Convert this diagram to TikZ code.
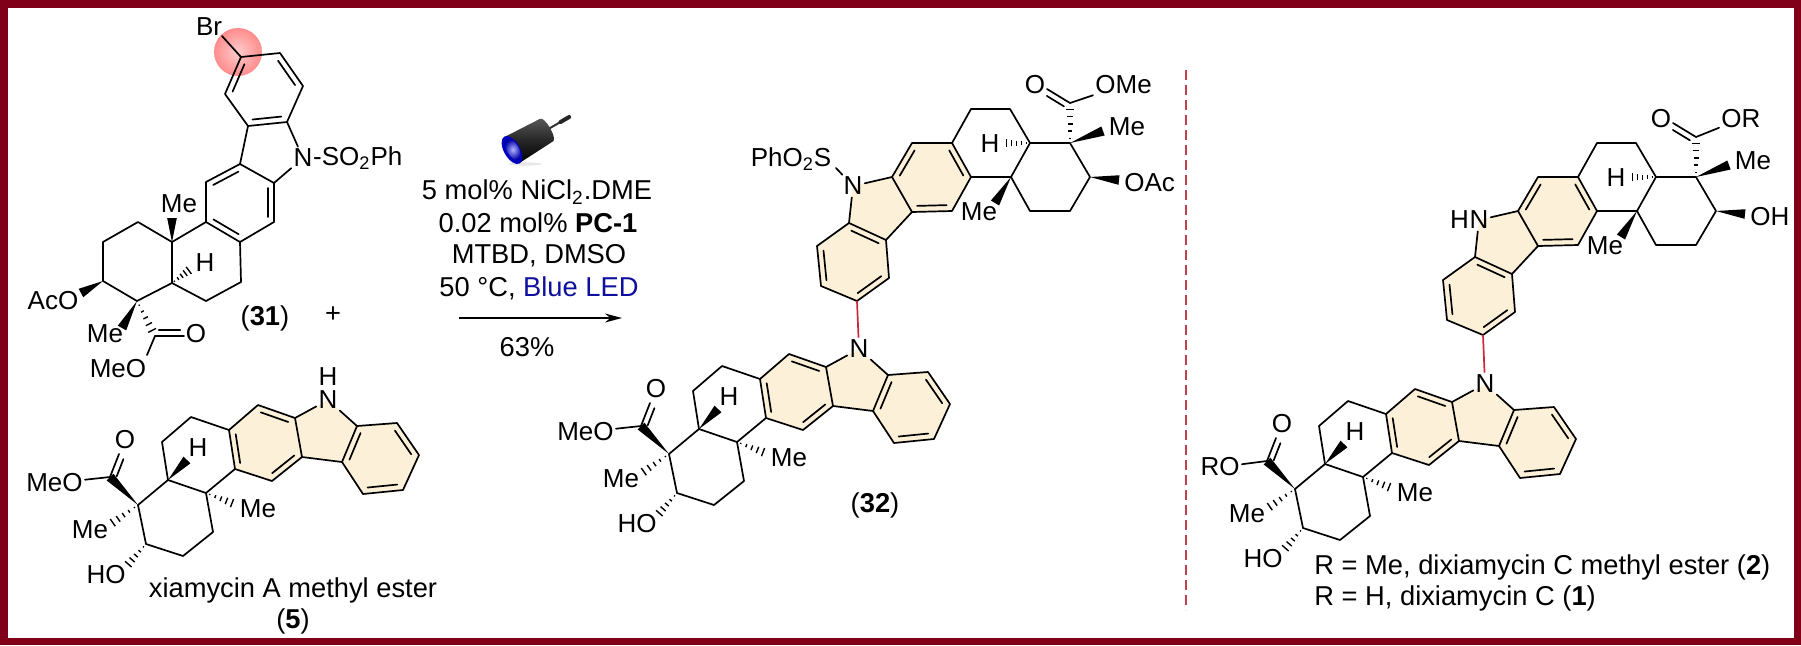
\documentclass[tikz,border=0pt]{standalone}
\usepackage{fontspec}
\setmainfont{Liberation Sans}
\usetikzlibrary{calc,positioning,arrows.meta}
\definecolor{frame}{HTML}{80001A}
\definecolor{ringfill}{HTML}{FCF0D8}
\definecolor{dashred}{HTML}{C2414F}
\definecolor{linkred}{HTML}{C8283C}
\definecolor{ledblue}{HTML}{0F0F9E}
\tikzset{
    bond/.style = {line width=0.85pt, line join=round, line cap=round},
    chem/.style = {inner sep=1pt, font=\fontsize{13}{15}\selectfont},
    caption/.style = {inner sep=0pt, font=\fontsize{13.65}{16}\selectfont},
    hashline/.style = {line width=0.7pt},
}
% x/y name list to coordinates
\newcommand{\pts}[1]{\foreach \n/\x/\y in {#1}{\coordinate (\n) at (\x,\y);}}
\newcommand{\dbl}[2]{\draw[bond] ($(#1)!0.13!(#2)!3pt!90:(#2)$) -- ($(#2)!0.13!(#1)!3pt!-90:(#1)$);}
\newcommand{\wdg}[2]{\fill (#1) -- ($(#2)!2.4pt!90:(#1)$) -- ($(#2)!2.4pt!-90:(#1)$) -- cycle;}
\newcommand{\hsh}[2]{\foreach \hp [evaluate=\hp as \hw using \hp*2.6] in {0.12,0.3,0.48,0.66,0.84,1}{
    \draw[hashline] ($(#1)!\hp!(#2)!\hw pt!90:(#2)$) -- ($(#1)!\hp!(#2)!\hw pt!-90:(#2)$);}}
% decalin + carbazole, the lower half
\newcommand{\lowerunit}[3]{
    \begin{scope}[shift={(#1,#2)}]
    \pts{r1/357/426,r2/397/423,r3/419/455,r4/403/490,r5/363/494,r6/342/462,
         a1/295/418,a2/258/405,a3/229/430,a4/235/469,a5/272/481,a6/302/457,
         e1/191/417,e2/162/442,e3/168/480,e4/206/493,
         f1/138/505,f2/146/544,f3/183/556,f4/213/532,
         co/110/477,coe/119/454,wh/187/460,wm/237/505,hm/108/526,ho/125/568,
         nc/328/400}
    \fill[ringfill] (r1)--(r2)--(r3)--(r4)--(r5)--(r6)--cycle;
    \fill[ringfill] (a1)--(a2)--(a3)--(a4)--(a5)--(a6)--cycle;
    \fill[ringfill] (nc)--(a1)--(a6)--(r6)--(r1)--cycle;
    \node[chem] (nl) at (nc) {N};
    \node[chem, anchor=east] (est) at (85,483) {#3};
    \node[chem] (ol) at (125,440) {O};
    \node[chem] at (198,448) {H};
    \node[chem] at (258,509) {Me};
    \node[chem] at (90,530) {Me};
    \node[chem] at (106,575) {HO};
    \draw[bond] (r1)--(r2)--(r3)--(r4)--(r5)--(r6)--cycle;
    \draw[bond] (a1)--(a2)--(a3)--(a4)--(a5)--(a6)--cycle;
    \draw[bond] (a6)--(r6);
    \draw[bond] (a1)--(nl)--(r1);
    \draw[bond] (a3)--(e1)--(e2)--(e3)--(e4)--(a4);
    \draw[bond] (e3)--(f1)--(f2)--(f3)--(f4)--(e4);
    \draw[bond] (co)--(est);
    \draw[bond] (co)--(coe);
    \dbl{coe}{co}
    \dbl{r1}{r6}
    \dbl{r5}{r4}
    \dbl{r3}{r2}
    \dbl{a1}{a2}
    \dbl{a3}{a4}
    \dbl{a5}{a6}
    \wdg{e3}{wh}
    \wdg{f1}{co}
    \hsh{e4}{wm}
    \hsh{f1}{hm}
    \hsh{f2}{ho}
    \end{scope}
}
% decalin + carbazole, the upper half
\newcommand{\upperunit}[4]{
    \begin{scope}[shift={(#1,#2)}]
    \pts{b1/952/143,b2/912/143,b3/892/177,b4/912/212,b5/952/211,b6/971/177,
         d1/849/223,d2/817/246,d3/821/286,d4/857/301,d5/889/278,d6/886/240,
         g1/971/109,g2/1010/109,g3/1030/143,g4/1011/177,
         h1/1070/143,h2/1090/177,h3/1070/211,h4/1030/211,
         cu/1070/103,cue/1047/89,wm/1103/131,wo/1119/180,wl/995/203,hh/1002/143,
         pb/836/168,nc/853/186}
    \fill[ringfill] (b1)--(b2)--(b3)--(b4)--(b5)--(b6)--cycle;
    \fill[ringfill] (d1)--(d2)--(d3)--(d4)--(d5)--(d6)--cycle;
    \fill[ringfill] (nc)--(d1)--(d6)--(b4)--(b3)--cycle;
    \node[chem] (nu) at (nc) {N};
    \node[chem] (ou) at (1035,85) {O};
    \node[chem, anchor=west] (este) at (1093,85) {#3};
    \node[chem] at (1127,127) {Me};
    \node[chem, anchor=west] at (1122,183) {#4};
    \node[chem] at (990,144) {H};
    \node[chem] at (979,212) {Me};
    \draw[bond] (b1)--(b2)--(b3)--(b4)--(b5)--(b6)--cycle;
    \draw[bond] (d1)--(d2)--(d3)--(d4)--(d5)--(d6)--cycle;
    \draw[bond] (d6)--(b4);
    \draw[bond] (b3)--(nu)--(d1);
    \draw[bond] (b1)--(g1)--(g2)--(g3)--(g4)--(b6);
    \draw[bond] (g3)--(h1)--(h2)--(h3)--(h4)--(g4);
    \draw[bond] (cu)--(este);
    \draw[bond] (cu)--(cue);
    \dbl{cu}{cue}
    \dbl{b2}{b3}
    \dbl{b4}{b5}
    \dbl{b6}{b1}
    \dbl{d6}{d1}
    \dbl{d2}{d3}
    \dbl{d4}{d5}
    \wdg{h1}{wm}
    \wdg{h2}{wo}
    \wdg{g4}{wl}
    \hsh{h1}{cu}
    \hsh{g3}{hh}
    \end{scope}
}
\begin{document}
\begin{tikzpicture}[x=0.5pt,y=-0.5pt]
    \fill[frame] (0,0) rectangle (1801,645);
    \fill[white] (8,8) rectangle (1794,638);

    % bromide 31
    \pts{t1/241/57,t2/280/53,t3/303/86,t4/287/122,t5/248/126,t6/225/94,
         m1/240/164,m2/274/183,m3/274/222,m4/240/242,m5/206/222,m6/206/182,
         k1/172/242,k2/138/222,k3/103/242,k4/103/281,k5/137/301,k6/172/283,
         k7/206/301,k8/241/282,cb/155/336,cbe/184/336,bb/222/36,
         wk/172/218,wa/81/293,wb/122/328,hk/192/268,mb/147/355}
    \shade[inner color=red!20!white, outer color=red!45!white] (238,52) circle (24);
    \node[chem] (br) at (209,27) {Br};
    \node[chem] (n31) at (303,158) {N};
    \node[chem, right=-2pt of n31] (so31) {-SO\textsubscript{2}Ph};
    \node[chem] at (179,204) {Me};
    \node[chem] at (205,263) {H};
    \node[chem] at (53,301) {AcO};
    \node[chem] at (105,334) {Me};
    \node[chem] (o31) at (196,334) {O};
    \node[chem] at (118,369) {MeO};
    \draw[bond] (t1)--(t2)--(t3)--(t4)--(t5)--(t6)--cycle;
    \draw[bond] (t1)--(bb);
    \draw[bond] (t4)--(n31)--(m2);
    \draw[bond] (t5)--(m1);
    \draw[bond] (m1)--(m2)--(m3)--(m4)--(m5)--(m6)--cycle;
    \draw[bond] (m5)--(k1)--(k2)--(k3)--(k4)--(k5)--(k6)--(k7)--(k8)--(m4);
    \draw[bond] (k1)--(k6);
    \draw[bond] (cb)--(cbe);
    \draw[bond] (cb)--(mb);
    \dbl{cb}{cbe}
    \dbl{t1}{t6}
    \dbl{t5}{t4}
    \dbl{t3}{t2}
    \dbl{m1}{m6}
    \dbl{m5}{m4}
    \dbl{m3}{m2}
    \wdg{k1}{wk}
    \wdg{k4}{wa}
    \wdg{k5}{wb}
    \hsh{k6}{hk}
    \hsh{k5}{cb}
    \node[caption] at (265,318) {(\textbf{31})};
    \node[caption] at (333,315) {+};

    % xiamycin A methyl ester 5
    \lowerunit{0}{0}{MeO}
    \node[chem] at (328,377) {H};
    \node[caption] at (293,590) {xiamycin A methyl ester};
    \node[caption] at (293,621) {(\textbf{5})};

    % reaction arrow
    \node[caption] (r1txt) at (537,192) {5 mol\% NiCl\textsubscript{2}.DME};
    \node[caption] (r2txt) at (538,223) {0.02 mol\% \textbf{PC-1}};
    \node[caption] (r3txt) at (539,256) {MTBD, DMSO};
    \node[caption] (r4txt) at (539,288) {50 °C, \textcolor{ledblue}{Blue LED}};
    \node[caption] (yld) at (527,347) {63\%};
    \coordinate (arra) at (459,318);
    \coordinate (arrb) at (622,318);
    \draw[line width=0.7pt, -{Stealth[length=8.5pt,width=4.5pt]}] (arra) -- (arrb);

    % LED lamp
    \fill[black!18, opacity=0.5] (525,164) ellipse (17 and 1.6);
    \begin{scope}[shift={(512,150)},rotate=30]
    \draw[line width=1pt, black!80] (38,0) -- (56,0);
    \draw[line width=2pt, black!85, line cap=round] (56,0) -- (66,0);
    \shade[top color=black!65, bottom color=black, middle color=black!85] (0,-15) -- (40,-13) arc (-90:90:4 and 13) -- (0,15) -- cycle;
    \fill[blue!75!black] (0,0) ellipse (8 and 15.5);
    \shade[inner color=white!70!blue, outer color=blue!65!black] (1,0) ellipse (6 and 12);
    \end{scope}

    % product 32
    \upperunit{0}{0}{OMe}{OAc}
    \lowerunit{531}{-51}{MeO}
    \node[chem] (ps32) at (791,159) {PhO\textsubscript{2}S};
    \draw[bond] (nu)--(pb);
    \draw[linkred, line width=0.85pt] (d4)--(nl);
    \node[caption] at (875,505) {(\textbf{32})};

    % separator
    \coordinate (sepa) at (1186,70);
    \coordinate (sepb) at (1186,610);
    \draw[dashred, line width=1pt, dash pattern=on 5pt off 2.5pt] (sepa) -- (sepb);

    % dixiamycin C
    \upperunit{626}{34}{OR}{OH}
    \lowerunit{1157}{-16}{RO}
    \node[chem, left=-2pt of nu] {H};
    \draw[linkred, line width=0.85pt] (d4)--(nl);
    \node[caption, anchor=west] at (1314,567) {R = Me, dixiamycin C methyl ester (\textbf{2})};
    \node[caption, anchor=west] at (1314,598) {R = H, dixiamycin C (\textbf{1})};
\end{tikzpicture}
\end{document}
